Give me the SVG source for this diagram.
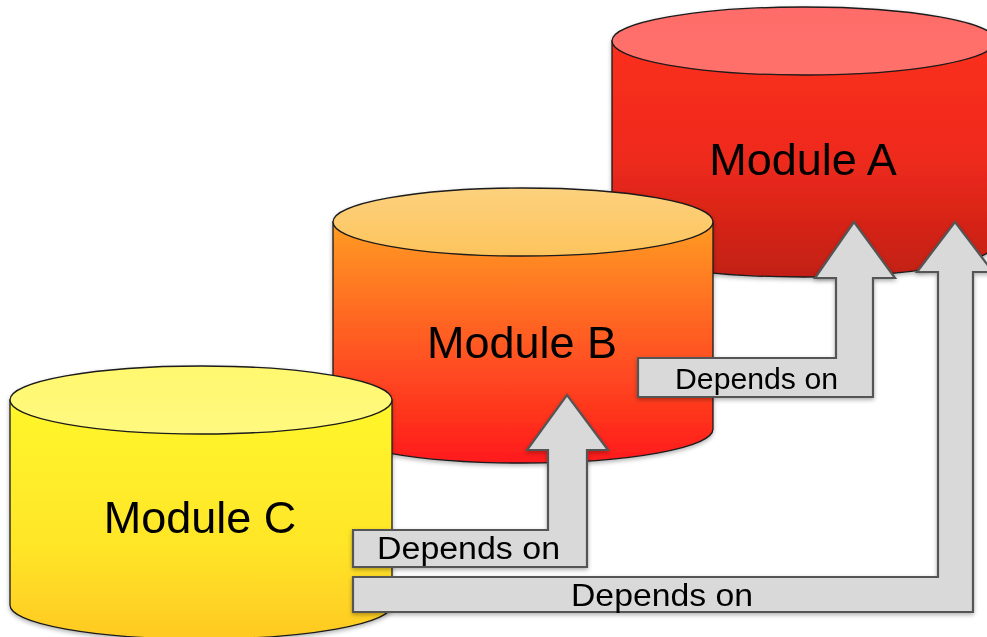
<svg xmlns="http://www.w3.org/2000/svg" width="987" height="637" viewBox="0 0 987 637">
<defs>
<style>
.outline{stroke:#1a1a1a;stroke-width:1.3}
.label{font-family:"Liberation Sans",Arial,Helvetica,sans-serif;font-size:45px;fill:#000}
.dep{font-family:"Liberation Sans",Arial,Helvetica,sans-serif;fill:#000}
.arrow{fill:#d9d9d9;stroke:#555555;stroke-width:2.2;stroke-linejoin:miter}
</style>
<linearGradient id="sideA" x1="0" y1="0" x2="0" y2="1">
<stop offset="0" stop-color="#fb2f1e"/><stop offset="0.5" stop-color="#ee2a1b"/><stop offset="1" stop-color="#c21f16"/>
</linearGradient>
<linearGradient id="topA" x1="0" y1="0" x2="0" y2="1">
<stop offset="0" stop-color="#ff6c69"/><stop offset="1" stop-color="#ff716b"/>
</linearGradient>
<linearGradient id="sideB" x1="0" y1="0" x2="0" y2="1">
<stop offset="0" stop-color="#ff9c24"/><stop offset="0.5" stop-color="#ff5a22"/><stop offset="1" stop-color="#ff1a1c"/>
</linearGradient>
<linearGradient id="topB" x1="0" y1="0" x2="0" y2="1">
<stop offset="0" stop-color="#fdd17e"/><stop offset="1" stop-color="#fdc45c"/>
</linearGradient>
<linearGradient id="sideC" x1="0" y1="0" x2="0" y2="1">
<stop offset="0" stop-color="#fff62c"/><stop offset="0.6" stop-color="#ffe628"/><stop offset="1" stop-color="#ffc923"/>
</linearGradient>
<linearGradient id="topC" x1="0" y1="0" x2="0" y2="1">
<stop offset="0" stop-color="#fff86e"/><stop offset="1" stop-color="#fff980"/>
</linearGradient>
<filter id="shadow" x="-10%" y="-10%" width="120%" height="130%">
<feDropShadow dx="0" dy="2" stdDeviation="2" flood-color="#000" flood-opacity="0.3"/>
</filter>
</defs>
<rect x="0" y="0" width="987" height="637" fill="#ffffff"/>

<g id="moduleA" filter="url(#shadow)">
<path class="outline" fill="url(#sideA)" d="M612,41 V243 A192,34 0 0 0 996,243 V41 Z"/>
<ellipse class="outline" fill="url(#topA)" cx="804" cy="41" rx="192" ry="34"/>
<text class="label" x="803" y="175" text-anchor="middle">Module A</text>
</g>

<g id="moduleB" filter="url(#shadow)">
<path class="outline" fill="url(#sideB)" d="M333,222 V429 A190,34 0 0 0 713,429 V222 Z"/>
<ellipse class="outline" fill="url(#topB)" cx="523" cy="222" rx="190" ry="34"/>
<text class="label" x="522" y="358" text-anchor="middle">Module B</text>
</g>

<g id="moduleC" filter="url(#shadow)">
<path class="outline" fill="url(#sideC)" d="M10,400 V605 A191,34 0 0 0 392,605 V400 Z"/>
<ellipse class="outline" fill="url(#topC)" cx="201" cy="400" rx="191" ry="34"/>
<text class="label" x="200" y="533" text-anchor="middle">Module C</text>
</g>

<g id="connectors" filter="url(#shadow)">
<g id="c-to-b">
<path class="arrow" d="M353,530 H548 V450 H527 L567,395 L608,450 H587 V567 H353 Z"/>
<text class="dep" x="377" y="559" font-size="31" textLength="183" lengthAdjust="spacingAndGlyphs">Depends on</text>
</g>
<g id="b-to-a">
<path class="arrow" d="M638,358 H836 V278 H815 L854,222 L895,278 H873 V397 H638 Z"/>
<text class="dep" x="675" y="389" font-size="29" textLength="163" lengthAdjust="spacingAndGlyphs">Depends on</text>
</g>
<g id="c-to-a">
<path class="arrow" d="M353,577 H938 V272 H917 L955,222 L993,272 H973 V612 H353 Z"/>
<text class="dep" x="571" y="606" font-size="32" textLength="182" lengthAdjust="spacingAndGlyphs">Depends on</text>
</g>
</g>
</svg>
